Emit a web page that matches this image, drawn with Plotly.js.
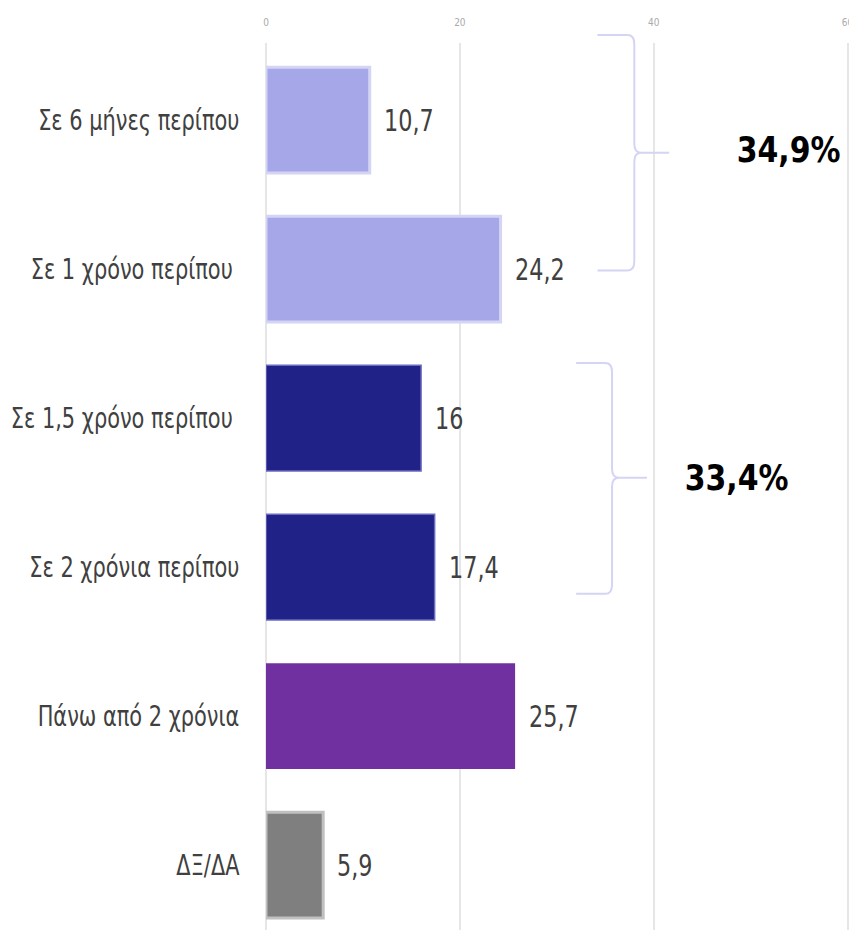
<!DOCTYPE html>
<html>
<head>
<meta charset="utf-8">
<script src="https://cdn.plot.ly/plotly-3.0.1.min.js"></script>
<style>html,body{margin:0;padding:0;background:#fff;}#chart{width:849px;height:930px;}</style>
</head>
<body>
<div id="chart"></div>
<script>
const categories = ["Σε 6 μήνες περίπου", "Σε 1 χρόνο περίπου ", "Σε 1,5 χρόνο περίπου ", "Σε 2 χρόνια περίπου", "Πάνω από 2 χρόνια", "ΔΞ/ΔΑ"];
const values = [10.7, 24.2, 16, 17.4, 25.7, 5.9];
const barColors = ["#a6a7e8", "#a6a7e8", "#212287", "#212287", "#7030a0", "#7f7f7f"];
const borderColors = ["#d4d4f5", "#d4d4f5", "#6a6ac0", "#6a6ac0", "#7030a0", "#c0c0c0"];
const borderWidths = [3, 3, 1.5, 1.5, 0, 3];
const groupTotals = ["34,9%", "33,4%"];
const xTicks = [0, 20, 40, 60];

const FONT = '"DejaVu Sans Condensed", "Liberation Sans", sans-serif';
const positions = categories.map((c, i) => i);
const fmt = v => String(v).replace('.', ',');
const X_RANGE = [0, 60.15];
const Y_RANGE = [5.436, -0.517];

const trace = {
  type: 'bar',
  orientation: 'h',
  y: positions,
  x: values,
  marker: {color: barColors, line: {color: borderColors, width: borderWidths}},
  width: 0.71,
  hoverinfo: 'none'
};

const annotations = values.map((v, i) => ({
  x: v, y: i, xref: 'x', yref: 'y',
  text: fmt(v), showarrow: false,
  xanchor: 'left', yanchor: 'middle', xshift: 12,
  font: {family: FONT, size: 31, color: '#404040'}
}));
annotations.push({x: 53.9, y: 0.2, xref: 'x', yref: 'y', text: groupTotals[0], showarrow: false,
  xanchor: 'center', yanchor: 'middle', borderpad: 0, font: {family: FONT, size: 35, color: '#000', weight: 'bold'}});
annotations.push({x: 48.5, y: 2.4, xref: 'x', yref: 'y', text: groupTotals[1], showarrow: false,
  xanchor: 'center', yanchor: 'middle', borderpad: 0, font: {family: FONT, size: 35, color: '#000', weight: 'bold'}});

// convert data coords to paper coords so the braces are not clipped by the plot area
const px = x => (x - X_RANGE[0]) / (X_RANGE[1] - X_RANGE[0]);
const py = y => (Y_RANGE[0] - y) / (Y_RANGE[0] - Y_RANGE[1]);

function brace(left, vx, tip, top, mid, bot) {
  const dx = 0.7, dy = 0.06;
  const P = (x, y) => `${px(x).toFixed(5)},${py(y).toFixed(5)}`;
  return `M ${P(left, top)} L ${P(vx - dx, top)} Q ${P(vx, top)} ${P(vx, top + dy)} L ${P(vx, mid - dy)} Q ${P(vx, mid)} ${P(vx + dx, mid)} L ${P(tip, mid)} ` +
         `M ${P(vx + dx, mid)} Q ${P(vx, mid)} ${P(vx, mid + dy)} L ${P(vx, bot - dy)} Q ${P(vx, bot)} ${P(vx - dx, bot)} L ${P(left, bot)}`;
}

const shapes = [
  {type: 'path', xref: 'paper', yref: 'paper', path: brace(34.2, 38.0, 41.6, -0.57, 0.22, 1.01), line: {color: '#d4d4f4', width: 2}},
  {type: 'path', xref: 'paper', yref: 'paper', path: brace(32.0, 35.7, 39.3, 1.63, 2.40, 3.18), line: {color: '#d4d4f4', width: 2}}
];

const layout = {
  width: 849, height: 930,
  margin: {l: 266, r: 0, t: 43, b: 0},
  paper_bgcolor: '#fff', plot_bgcolor: '#fff',
  showlegend: false,
  xaxis: {
    side: 'top', range: X_RANGE, tickvals: xTicks, ticktext: xTicks.map(String),
    showgrid: true, gridcolor: '#e6e6e6', gridwidth: 2,
    zeroline: true, zerolinecolor: '#e6e6e6', zerolinewidth: 2,
    showline: false, ticks: 'outside', ticklen: 12, tickcolor: 'rgba(0,0,0,0)',
    ticklabeloverflow: 'allow',
    tickfont: {family: FONT, size: 10, color: '#aaaaaa'}, fixedrange: true
  },
  yaxis: {
    range: Y_RANGE, tickvals: positions, ticktext: categories,
    showgrid: false, zeroline: false, showline: false,
    ticks: 'outside', ticklen: 20, tickcolor: 'rgba(0,0,0,0)',
    tickfont: {family: FONT, size: 28, color: '#404040'}, fixedrange: true
  },
  annotations: annotations,
  shapes: shapes
};

function squeeze(el, f, keep) {
  const len = el.getComputedTextLength();
  if (!len) return;
  const bb = el.getBBox();
  el.setAttribute('textLength', (len * f).toFixed(2));
  el.setAttribute('lengthAdjust', 'spacingAndGlyphs');
  const bb2 = el.getBBox();
  let dx = 0;
  if (keep === 'left') dx = bb.x - bb2.x;
  else if (keep === 'right') dx = (bb.x + bb.width) - (bb2.x + bb2.width);
  else dx = (bb.x + bb.width / 2) - (bb2.x + bb2.width / 2);
  if (Math.abs(dx) > 0.01) el.setAttribute('x', (parseFloat(el.getAttribute('x') || 0) + dx).toFixed(2));
}

Plotly.newPlot('chart', [trace], layout, {displayModeBar: false, staticPlot: true}).then(gd => {
  gd.querySelectorAll('.ytick text').forEach(t => squeeze(t, 0.83, 'right'));
  const ann = gd.querySelectorAll('.annotation-text');
  ann.forEach((t, i) => {
    if (i < values.length) squeeze(t, 0.8, 'left');
    else squeeze(t, 0.95, 'center');
  });
});
</script>
</body>
</html>
